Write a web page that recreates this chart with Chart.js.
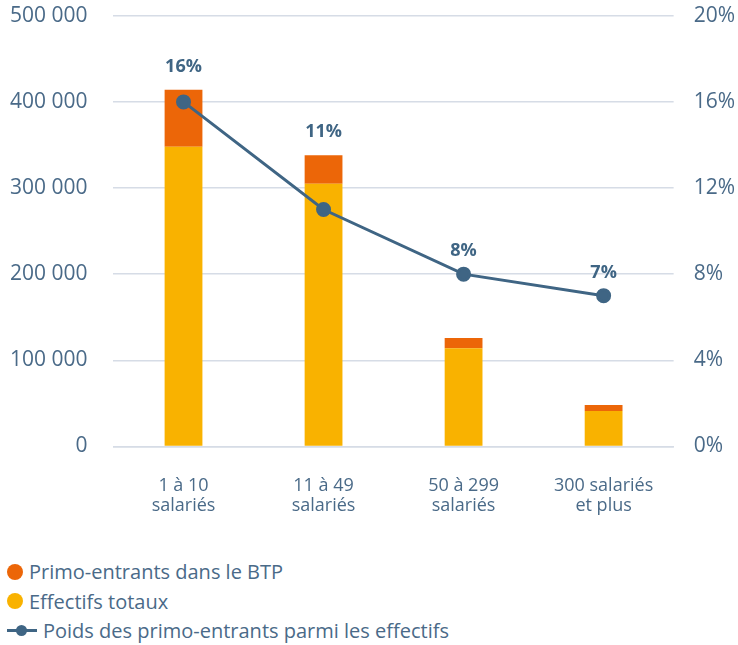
<!DOCTYPE html>
<html>
<head>
<meta charset="utf-8">
<script src="https://cdn.jsdelivr.net/npm/chart.js@4"></script>
<style>
	body { margin: 0; background: #fff; font-family: "Open Sans", sans-serif; }
	#wrap { position: relative; width: 738px; height: 516px; }
	#legend { position: absolute; left: 0; top: 557px; width: 738px; }
	.item { display: flex; align-items: center; height: 29.5px; color: #4a6a88; font-size: 20px; }
	.dot { width: 16px; height: 16px; border-radius: 50%; margin: 0 6px 0 7px; }
	.ln { position: relative; width: 30px; height: 3px; margin: 0 6px 0 7px; }
	.ln span { position: absolute; left: 9px; top: -4px; width: 11px; height: 11px; border-radius: 50%; }
</style>
</head>
<body>
<div id="wrap"><canvas id="chart"></canvas></div>
<div id="legend"></div>
<script>
const categories = [["1 à 10", "salariés"], ["11 à 49", "salariés"], ["50 à 299", "salariés"], ["300 salariés", "et plus"]];
const effectifs = [348000, 305000, 114000, 41000];
const primo = [66000, 33000, 12000, 7000];
const poids = [16, 11, 8, 7];
const leftTicks = [0, 100000, 200000, 300000, 400000, 500000];
const rightTicks = [0, 4, 8, 12, 16, 20];

const textColor = "#4a6a88";
const gridColor = "#d6dce6";

let ctx = document.getElementById("chart");

// labels au-dessus du point ou de la barre
const pointLabels = {
	id: "pointLabels",
	afterDatasetsDraw(chart) {
		let c = chart.ctx;
		let metas = chart.getSortedVisibleDatasetMetas();
		let line = chart.getDatasetMeta(0);
		c.save();
		c.font = "bold 18px 'Open Sans'";
		c.fillStyle = "#3f6584";
		c.textAlign = "center";
		c.textBaseline = "middle";
		line.data.forEach((pt, i) => {
			let top = pt.y;
			metas.forEach(m => {
				if (m.data[i] && m.data[i].y < top) top = m.data[i].y;
			});
			c.fillText(poids[i] + "%", pt.x, top - 23);
		});
		c.restore();
	}
};

let data = {
	labels: categories,
	datasets: [{
		type: "line",
		label: "Poids des primo-entrants parmi les effectifs",
		data: poids,
		yAxisID: "y1",
		borderColor: "#3f6584",
		backgroundColor: "#3f6584",
		borderWidth: 3,
		pointRadius: 6,
		pointHoverRadius: 6,
		order: 0
	}, {
		type: "bar",
		label: "Effectifs totaux",
		data: effectifs,
		backgroundColor: "#f9b200",
		yAxisID: "y",
		barPercentage: 0.27,
		categoryPercentage: 1,
		order: 1
	}, {
		type: "bar",
		label: "Primo-entrants dans le BTP",
		data: primo,
		backgroundColor: "#ec6608",
		yAxisID: "y",
		barPercentage: 0.27,
		categoryPercentage: 1,
		order: 2
	}]
};

const config = {
	data: data,
	plugins: [pointLabels],
	options: {
		responsive: true,
		maintainAspectRatio: false,
		animation: false,
		layout: { padding: { left: 10, right: 3, top: 6, bottom: 0 } },
		plugins: {
			legend: { display: false },
			tooltip: { enabled: false }
		},
		scales: {
			x: {
				stacked: true,
				grid: { display: true, drawOnChartArea: false, tickLength: 30, tickColor: "transparent" },
				border: { color: gridColor, width: 1.5 },
				ticks: {
					color: textColor,
					padding: 0,
					font: { family: "Open Sans", size: 18, lineHeight: 1.1 }
				}
			},
			y: {
				stacked: true,
				position: "left",
				min: 0,
				max: 500000,
				afterBuildTicks: axis => { axis.ticks = leftTicks.map(v => ({ value: v })); },
				grid: { color: gridColor, lineWidth: 1.5, tickLength: 26, tickColor: "transparent" },
				border: { display: false },
				ticks: {
					color: textColor,
					padding: 0,
					font: { family: "Open Sans", size: 21, lineHeight: 1.5 },
					callback: v => String(v).replace(/\B(?=(\d{3})+(?!\d))/g, " ")
				}
			},
			y1: {
				position: "right",
				min: 0,
				max: 20,
				afterBuildTicks: axis => { axis.ticks = rightTicks.map(v => ({ value: v })); },
				grid: { drawOnChartArea: false, tickLength: 20, tickColor: "transparent" },
				border: { display: false },
				ticks: {
					color: textColor,
					padding: 0,
					font: { family: "Open Sans", size: 21, lineHeight: 1.5 },
					callback: v => v + "%"
				}
			}
		}
	}
};
let chart = new Chart(ctx, config);

// légende verticale
let legend = document.getElementById("legend");
[2, 1, 0].forEach(i => {
	let ds = chart.data.datasets[i];
	let row = document.createElement("div");
	row.className = "item";
	let mark = document.createElement("div");
	if (ds.type === "line") {
		mark.className = "ln";
		mark.style.background = ds.borderColor;
		let s = document.createElement("span");
		s.style.background = ds.borderColor;
		mark.appendChild(s);
	} else {
		mark.className = "dot";
		mark.style.background = ds.backgroundColor;
	}
	row.appendChild(mark);
	let t = document.createElement("span");
	t.textContent = ds.label;
	row.appendChild(t);
	legend.appendChild(row);
});
</script>
</body>
</html>
